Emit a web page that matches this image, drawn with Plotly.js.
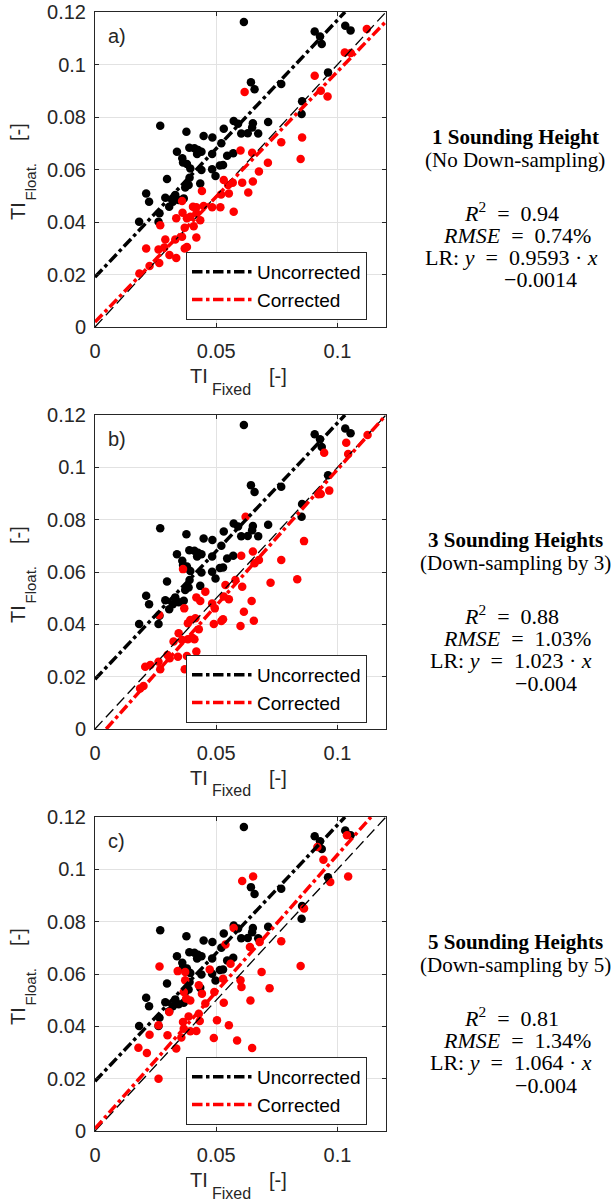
<!DOCTYPE html>
<html><head><meta charset="utf-8">
<script src="https://cdn.plot.ly/plotly-3.0.1.min.js"></script>
<style>html,body{margin:0;padding:0;background:#fff;}#chart{width:614px;height:1204px;}</style>
</head><body><div id="chart"></div>
<script>
// ---------------- data ----------------
const xTickVals = [0, 0.05, 0.1];
const xTickText = ['0', '0.05', '0.1'];
const yTickVals = [0, 0.02, 0.04, 0.06, 0.08, 0.1, 0.12];
const yTickText = ['0', '0.02', '0.04', '0.06', '0.08', '0.1', '0.12'];

// Uncorrected (same in all three panels)
const uncorrectedX = [0.0614,0.0906,0.1032,0.1054,0.0928,0.0935,0.0961,0.0643,0.0658,0.0768,0.0854,0.0852,0.0269,0.0377,0.0531,0.0572,0.0590,0.0651,0.0648,0.0714,0.0603,0.0630,0.0673,0.0448,0.0484,0.0521,0.0389,0.0410,0.0425,0.0439,0.0338,0.0421,0.0483,0.0545,0.0570,0.0360,0.0363,0.0379,0.0393,0.0439,0.0515,0.0528,0.0483,0.0497,0.0297,0.0390,0.0434,0.0386,0.0372,0.0211,0.0223,0.0290,0.0306,0.0331,0.0345,0.0366,0.0266,0.0262,0.0182,0.0321];
const uncorrectedY = [0.1162,0.1126,0.1148,0.1130,0.1107,0.1078,0.0970,0.0932,0.0906,0.0926,0.0860,0.0811,0.0767,0.0744,0.0755,0.0785,0.0774,0.0776,0.0760,0.0781,0.0737,0.0738,0.0737,0.0728,0.0722,0.0700,0.0683,0.0681,0.0674,0.0668,0.0668,0.0659,0.0659,0.0652,0.0662,0.0643,0.0627,0.0621,0.0604,0.0598,0.0615,0.0617,0.0601,0.0575,0.0564,0.0569,0.0547,0.0541,0.0531,0.0509,0.0477,0.0492,0.0458,0.0503,0.0484,0.0490,0.0433,0.0401,0.0401,0.0477];

// Corrected, panel a (1 sounding height)
const correctedAX = [0.1121,0.1030,0.1055,0.0906,0.0617,0.0931,0.0959,0.0768,0.0854,0.0848,0.0600,0.0648,0.0713,0.0676,0.0531,0.0568,0.0607,0.0651,0.0441,0.0549,0.0520,0.0552,0.0632,0.0359,0.0404,0.0418,0.0448,0.0483,0.0517,0.0572,0.0335,0.0361,0.0379,0.0393,0.0418,0.0434,0.0370,0.0407,0.0269,0.0290,0.0331,0.0359,0.0418,0.0211,0.0262,0.0286,0.0307,0.0335,0.0370,0.0379,0.0225,0.0265,0.0183];
const correctedAY = [0.1135,0.1046,0.1044,0.0957,0.0895,0.0900,0.0878,0.0704,0.0722,0.0640,0.0672,0.0664,0.0626,0.0592,0.0560,0.0550,0.0550,0.0554,0.0518,0.0541,0.0505,0.0509,0.0512,0.0480,0.0458,0.0456,0.0461,0.0456,0.0456,0.0439,0.0414,0.0435,0.0414,0.0420,0.0433,0.0407,0.0378,0.0384,0.0388,0.0333,0.0333,0.0344,0.0341,0.0299,0.0295,0.0303,0.0274,0.0263,0.0299,0.0305,0.0232,0.0244,0.0204];

// Corrected, panel b (3 sounding heights)
const correctedBX = [0.1124,0.1036,0.1044,0.0945,0.0621,0.0931,0.0966,0.0921,0.0862,0.0834,0.0768,0.0724,0.0651,0.0603,0.0658,0.0676,0.0538,0.0579,0.0607,0.0363,0.0455,0.0418,0.0434,0.0483,0.0531,0.0552,0.0646,0.0614,0.0655,0.0600,0.0521,0.0490,0.0528,0.0368,0.0494,0.0265,0.0393,0.0383,0.0414,0.0428,0.0345,0.0324,0.0359,0.0383,0.0400,0.0410,0.0299,0.0262,0.0269,0.0308,0.0342,0.0379,0.0418,0.0370,0.0207,0.0228,0.0186,0.0200];
const correctedBY = [0.1124,0.1094,0.1051,0.1056,0.0811,0.0898,0.0911,0.0897,0.0718,0.0572,0.0646,0.0559,0.0678,0.0662,0.0633,0.0646,0.0550,0.0569,0.0544,0.0611,0.0525,0.0503,0.0489,0.0480,0.0506,0.0496,0.0489,0.0448,0.0414,0.0394,0.0413,0.0401,0.0419,0.0461,0.0461,0.0436,0.0417,0.0404,0.0423,0.0381,0.0366,0.0334,0.0340,0.0343,0.0350,0.0343,0.0283,0.0257,0.0228,0.0270,0.0276,0.0279,0.0296,0.0228,0.0238,0.0245,0.0155,0.0164];

// Corrected, panel c (5 sounding heights)
const correctedCX = [0.1039,0.1044,0.0917,0.0942,0.0970,0.0607,0.0652,0.0862,0.0768,0.0848,0.0572,0.0538,0.0639,0.0679,0.0559,0.0687,0.0720,0.0600,0.0604,0.0641,0.0528,0.0473,0.0266,0.0341,0.0372,0.0372,0.0428,0.0366,0.0393,0.0376,0.0441,0.0492,0.0455,0.0531,0.0306,0.0428,0.0386,0.0363,0.0262,0.0432,0.0503,0.0552,0.0366,0.0393,0.0418,0.0225,0.0299,0.0356,0.0490,0.0586,0.0648,0.0335,0.0179,0.0214,0.0262];
const correctedCY = [0.1130,0.0973,0.1085,0.1037,0.0952,0.0955,0.0973,0.0850,0.0725,0.0631,0.0776,0.0713,0.0703,0.0722,0.0639,0.0608,0.0546,0.0576,0.0550,0.0499,0.0582,0.0617,0.0629,0.0611,0.0608,0.0576,0.0557,0.0531,0.0499,0.0506,0.0525,0.0531,0.0487,0.0490,0.0455,0.0448,0.0438,0.0417,0.0404,0.0420,0.0423,0.0404,0.0391,0.0381,0.0382,0.0368,0.0366,0.0357,0.0355,0.0346,0.0317,0.0315,0.0318,0.0298,0.0200];

// Reference / fit lines (end points)
const oneToOneX = [0, 0.12];
const oneToOneY = [0, 0.12];
const uncorrectedLineX = [0, 0.1031];
const uncorrectedLineY = [0.019, 0.12];
const correctedLineAX = [0, 0.12];
const correctedLineAY = [0.0019, 0.1164];
const correctedLineBX = [0.0046, 0.12];
const correctedLineBY = [0, 0.12];
const correctedLineCX = [0, 0.1138];
const correctedLineCY = [0.0009, 0.12];

// Texts
const panelLetters = ['a)', 'b)', 'c)'];
const caseTitles = ['1 Sounding Height', '3 Sounding Heights', '5 Sounding Heights'];
const caseSubtitles = ['(No Down-sampling)', '(Down-sampling by 3)', '(Down-sampling by 5)'];
const r2Values = ['0.94', '0.88', '0.81'];
const rmseValues = ['0.74%', '1.03%', '1.34%'];
const lrSlopes = ['0.9593', '1.023', '1.064'];
const lrIntercepts = ['\u22120.0014', '\u22120.004', '\u22120.004'];
const legendNames = ['Uncorrected', 'Corrected'];

// ---------------- layout constants ----------------
const W = 614, H = 1204;
const plotLeft = 95, plotRight = 386;
const panelTops = [12, 415, 817];
const panelBottoms = [327, 729, 1131];
const SANS = 'Liberation Sans, Arial, Helvetica, sans-serif';
const SERIF = 'Liberation Serif, Times New Roman, serif';
const AXCOL = '#262626';
const px = v => v / W;
const py = v => 1 - v / H;
const EN = '\u2002';

const correctedSets = [[correctedAX, correctedAY], [correctedBX, correctedBY], [correctedCX, correctedCY]];
const correctedLines = [[correctedLineAX, correctedLineAY], [correctedLineBX, correctedLineBY], [correctedLineCX, correctedLineCY]];

const data = [];
const layout = {
  width: W, height: H, autosize: false,
  margin: {l: 0, r: 0, t: 0, b: 0, pad: 0},
  paper_bgcolor: '#fff', plot_bgcolor: '#fff',
  showlegend: true,
  annotations: [], shapes: []
};

for (let i = 0; i < 3; i++) {
  const sfx = i === 0 ? '' : String(i + 1);
  const xa = 'x' + sfx, ya = 'y' + sfx;
  const lg = 'legend' + sfx;
  data.push({x: uncorrectedX, y: uncorrectedY, xaxis: xa, yaxis: ya, type: 'scatter', mode: 'markers',
    marker: {color: '#000000', size: 8.5, line: {width: 0}}, showlegend: false, hoverinfo: 'skip'});
  data.push({x: correctedSets[i][0], y: correctedSets[i][1], xaxis: xa, yaxis: ya, type: 'scatter', mode: 'markers',
    marker: {color: '#ff0000', size: 8.5, line: {width: 0}}, showlegend: false, hoverinfo: 'skip'});
  data.push({x: oneToOneX, y: oneToOneY, xaxis: xa, yaxis: ya, type: 'scatter', mode: 'lines',
    line: {color: '#000000', width: 1.3, dash: '11px,5px'}, showlegend: false, hoverinfo: 'skip'});
  data.push({x: uncorrectedLineX, y: uncorrectedLineY, xaxis: xa, yaxis: ya, type: 'scatter', mode: 'lines',
    name: legendNames[0], legend: lg, line: {color: '#000000', width: 3.5, dash: 'dashdot'}, hoverinfo: 'skip'});
  data.push({x: correctedLines[i][0], y: correctedLines[i][1], xaxis: xa, yaxis: ya, type: 'scatter', mode: 'lines',
    name: legendNames[1], legend: lg, line: {color: '#ff0000', width: 3.5, dash: 'dashdot'}, hoverinfo: 'skip'});

  const T = panelTops[i], B = panelBottoms[i];
  const common = {
    range: [0, 0.12], showgrid: true, gridcolor: '#e2e2e2', gridwidth: 1, zeroline: false,
    showline: true, linecolor: AXCOL, linewidth: 1, mirror: 'ticks', ticks: 'inside', ticklen: 4,
    tickcolor: AXCOL, tickwidth: 1, fixedrange: true,
    tickfont: {family: SANS, size: 20, color: AXCOL}
  };
  layout['xaxis' + sfx] = Object.assign({}, common, {
    domain: [px(plotLeft), px(plotRight)], anchor: ya,
    tickmode: 'array', tickvals: xTickVals, ticktext: xTickText, ticklabelstandoff: 6
  });
  layout['yaxis' + sfx] = Object.assign({}, common, {
    domain: [py(B), py(T)], anchor: xa,
    tickmode: 'array', tickvals: yTickVals, ticktext: yTickText, ticklabelstandoff: 4
  });
  layout[lg] = {
    x: px(186), y: py(T + 240), xanchor: 'left', yanchor: 'top', xref: 'paper', yref: 'paper',
    bgcolor: '#ffffff', bordercolor: AXCOL, borderwidth: 1,
    font: {family: SANS, size: 19, color: '#000'}, itemwidth: 60, traceorder: 'normal', tracegroupgap: 0
  };

  const A = layout.annotations;
  // panel letter
  A.push({xref: 'paper', yref: 'paper', x: px(106), y: py(T + 24), xanchor: 'left', yanchor: 'middle',
    text: panelLetters[i], showarrow: false, font: {family: SANS, size: 20, color: AXCOL}});
  // x-axis title pieces
  A.push({xref: 'paper', yref: 'paper', x: px(199), y: py(B + 49), xanchor: 'center', yanchor: 'middle',
    text: 'TI', showarrow: false, font: {family: SANS, size: 20, color: AXCOL}});
  A.push({xref: 'paper', yref: 'paper', x: px(210), y: py(B + 62), xanchor: 'left', yanchor: 'middle',
    text: 'Fixed', showarrow: false, font: {family: SANS, size: 16, color: AXCOL}});
  A.push({xref: 'paper', yref: 'paper', x: px(267), y: py(B + 49), xanchor: 'left', yanchor: 'middle',
    text: '[-]', showarrow: false, font: {family: SANS, size: 20, color: AXCOL}});
  // y-axis title pieces (rotated)
  A.push({xref: 'paper', yref: 'paper', x: px(18), y: py(T + 199), xanchor: 'center', yanchor: 'middle', textangle: -90,
    text: 'TI', showarrow: false, font: {family: SANS, size: 20, color: AXCOL}});
  A.push({xref: 'paper', yref: 'paper', x: px(29.5), y: py(T + 170), xanchor: 'center', yanchor: 'middle', textangle: -90,
    text: 'Float.', showarrow: false, font: {family: SANS, size: 15, color: AXCOL}});
  A.push({xref: 'paper', yref: 'paper', x: px(18), y: py(T + 120), xanchor: 'center', yanchor: 'middle', textangle: -90,
    text: '[-]', showarrow: false, font: {family: SANS, size: 20, color: AXCOL}});
  // right-hand statistics text
  const off = [125, 148, 200, 223, 245, 268];
  const lines = [
    '<b>' + caseTitles[i] + '</b>',
    caseSubtitles[i],
    '<i>R</i><sup>2</sup>' + EN + '=' + EN + r2Values[i],
    '<i>RMSE</i>' + EN + '=' + EN + rmseValues[i],
    'LR: <i>y</i>' + EN + '=' + EN + lrSlopes[i] + ' \u00b7 <i>x</i>',
    lrIntercepts[i]
  ];
  const xc = [515, 515, 511, 517, 511, i === 0 ? 540 : 546];
  const fs = [21, 21, 22, 22, 22, 22];
  lines.forEach((t, k) => {
    A.push({xref: 'paper', yref: 'paper', x: px(xc[k]), y: py(T + off[k]), xanchor: 'center', yanchor: 'middle',
      text: t, showarrow: false, font: {family: SERIF, size: fs[k], color: '#000'}});
  });
}

Plotly.newPlot('chart', data, layout, {staticPlot: true, displayModeBar: false});
</script>
</body></html>
